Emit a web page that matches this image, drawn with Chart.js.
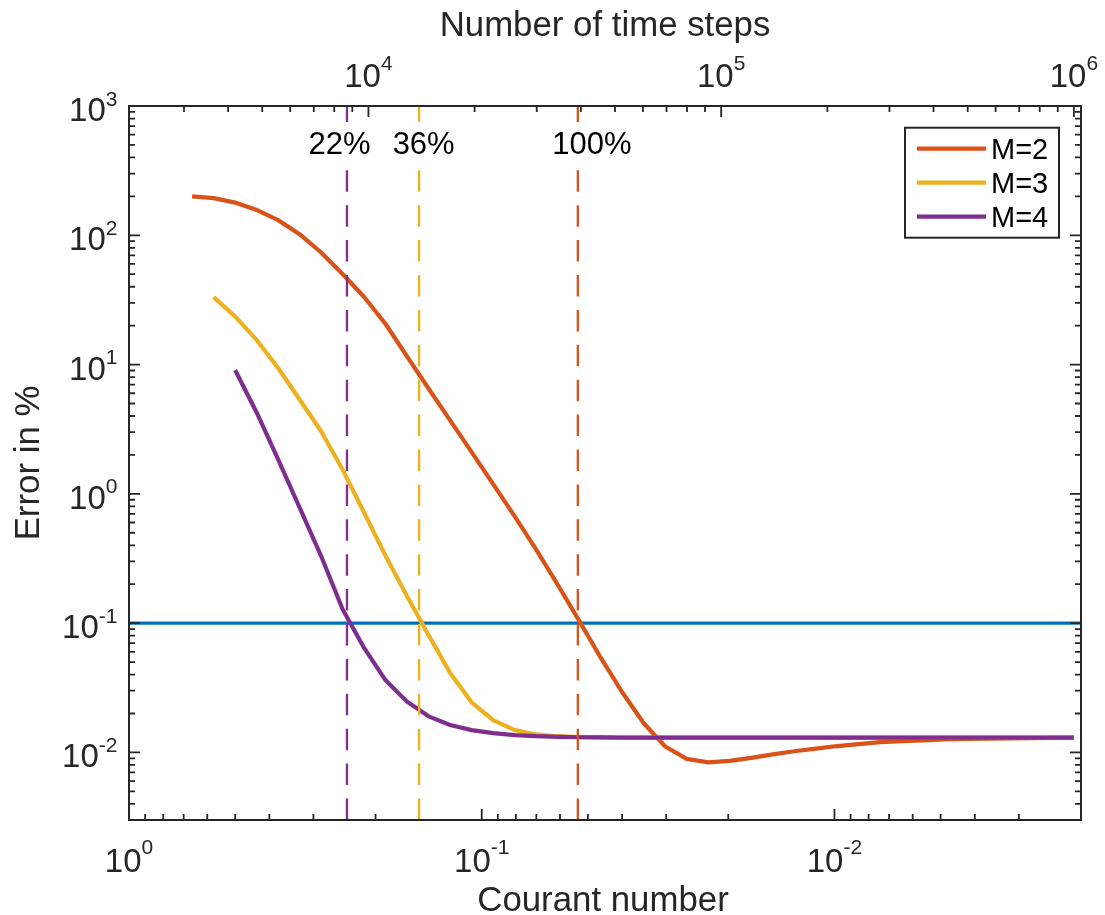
<!DOCTYPE html>
<html>
<head>
<meta charset="utf-8">
<title>Error versus Courant number</title>
<script src="https://cdn.jsdelivr.net/npm/chart.js@4.4.1/dist/chart.umd.min.js"></script>
<style>
  html, body { margin: 0; padding: 0; background: #ffffff; }
  #wrap { width: 1105px; height: 915px; }
  canvas { display: block; }
</style>
</head>
<body>
<div id="wrap"><canvas id="chart" width="1105" height="915"></canvas></div>
<script>
// ---- data -----------------------------------------------------------------
// Courant number of every run (one run per number of time steps)
const courantNumber = [0.6625, 0.5757, 0.5003, 0.4347, 0.3778, 0.3283, 0.2853, 0.2480,
  0.2155, 0.1873, 0.1627, 0.1414, 0.1229, 0.1068, 0.09279, 0.08063, 0.07007, 0.06089,
  0.05291, 0.04598, 0.03996, 0.03473, 0.03018, 0.02623, 0.02279, 0.01980, 0.01721,
  0.01496, 0.01300, 0.01129, 0.009815, 0.008530, 0.007413, 0.006442, 0.005598, 0.004865,
  0.004227, 0.003673, 0.003192, 0.002774, 0.002411, 0.002095];

// error in % for each model order (null where the run is not shown)
const errorM2 = [200, 194, 179, 157, 131, 102, 73.6, 50.2, 33.3, 20.6, 11.5, 6.5, 3.7,
  2.1, 1.19, 0.67, 0.37, 0.198, 0.104, 0.054, 0.0292, 0.0168, 0.0111, 0.00891, 0.00837,
  0.0086, 0.00907, 0.00965, 0.0102, 0.0107, 0.0112, 0.0116, 0.0120, 0.0122, 0.0124,
  0.0126, 0.0127, 0.0128, 0.01286, 0.0129, 0.01296, 0.0130];
const errorM3 = [null, 33.2, 23.6, 15.5, 9.4, 5.37, 3.05, 1.54, 0.717, 0.331, 0.161,
  0.0806, 0.0412, 0.0244, 0.01775, 0.01487, 0.01377, 0.01334, 0.01313, 0.01305, 0.0130,
  0.0130, 0.0130, 0.0130, 0.0130, 0.0130, 0.0130, 0.0130, 0.0130, 0.0130, 0.0130, 0.0130,
  0.0130, 0.0130, 0.0130, 0.0130, 0.0130, 0.0130, 0.0130, 0.0130, 0.0130, 0.0130];
const errorM4 = [null, null, 9.08, 4.26, 1.85, 0.783, 0.33, 0.128, 0.0643, 0.0361, 0.0246,
  0.0190, 0.0163, 0.01487, 0.0141, 0.0136, 0.01334, 0.0132, 0.0131, 0.01305, 0.0130,
  0.0130, 0.0130, 0.0130, 0.0130, 0.0130, 0.0130, 0.0130, 0.0130, 0.0130, 0.0130, 0.0130,
  0.0130, 0.0130, 0.0130, 0.0130, 0.0130, 0.0130, 0.0130, 0.0130, 0.0130, 0.0130];
const seriesLabels = ['M=2', 'M=3', 'M=4'];

// error tolerance, and per order (M=2, M=3, M=4) the Courant number where it is reached
const toleranceError = 0.1;
const crossingCourant = [0.0534, 0.1505, 0.2410];
const crossingLabels = ['100%', '36%', '22%'];
const crossingLabelCourant = [0.04873, 0.1461, 0.2530];

// axes: Courant number (bottom), error (left), time steps = stepsTimesCourant / Courant (top)
const courantRange = [0.002, 1];
const errorRange = [0.003, 1000];
const stepsTimesCourant = 2095;
const courantTicks = [1, 0.1, 0.01];
const errorTicks = [1000, 100, 10, 1, 0.1, 0.01];
const stepTicks = [1e4, 1e5, 1e6];

// ---- styling --------------------------------------------------------------
const FONT = '"Liberation Sans", Arial, Helvetica, sans-serif';
const AXIS_COLOR = '#262626';
const COLORS = { blue: '#0072BD', orange: '#D95319', yellow: '#EDB120', purple: '#7E2F8E' };
const seriesColors = [COLORS.orange, COLORS.yellow, COLORS.purple];
const TICK_PX = 33, SUP_PX = 21, LABEL_PX = 34.8, LEGEND_PX = 29, NOTE_PX = 31;

function pairs(xs, ys) {
  return xs.map((x, i) => ({ x, y: ys[i] })).filter(p => p.y !== null);
}

// 1..9 x 10^n tick values inside a range
function logTickValues(min, max) {
  const out = [];
  for (let e = Math.floor(Math.log10(min)) - 1; e <= Math.ceil(Math.log10(max)); e++) {
    for (let m = 1; m < 10; m++) {
      const v = parseFloat((m * Math.pow(10, e)).toPrecision(6));
      if (v >= min * 0.9999 && v <= max * 1.0001) out.push({ value: v, major: m === 1 });
    }
  }
  return out;
}
const setLogTicks = scale => { scale.ticks = logTickValues(scale.min, scale.max); };

const seriesErrors = [errorM2, errorM3, errorM4];
const datasets = [];

// dashed markers where each order reaches the tolerance (drawn on top)
crossingCourant.forEach((c, i) => {
  datasets.push({
    data: [{ x: c, y: errorRange[0] }, { x: c, y: errorRange[1] }],
    borderColor: seriesColors[i], borderWidth: 2.3, borderDash: [21.5, 13.4],
    pointRadius: 0, order: 0, inLegend: false
  });
});
// error curves
seriesErrors.forEach((err, i) => {
  datasets.push({
    label: seriesLabels[i], data: pairs(courantNumber, err),
    borderColor: seriesColors[i], backgroundColor: seriesColors[i],
    borderWidth: 4.2, pointRadius: 0, tension: 0, borderJoinStyle: 'round',
    order: 3 - i, inLegend: true
  });
});
// tolerance line
datasets.push({
  data: [{ x: courantRange[1], y: toleranceError }, { x: courantRange[0], y: toleranceError }],
  borderColor: COLORS.blue, borderWidth: 3.4, pointRadius: 0, order: 4, inLegend: false
});

// "10" with a raised exponent
function drawPow10(ctx, x, baseline, exp, align, raise) {
  const base = '10', sup = String(exp);
  ctx.font = `${TICK_PX}px ${FONT}`;
  const wb = ctx.measureText(base).width;
  ctx.font = `${SUP_PX}px ${FONT}`;
  const ws = ctx.measureText(sup).width;
  const x0 = align === 'center' ? x - (wb + ws) / 2 : x - (wb + ws);
  ctx.textAlign = 'left';
  ctx.textBaseline = 'alphabetic';
  ctx.font = `${TICK_PX}px ${FONT}`;
  ctx.fillText(base, x0, baseline);
  ctx.font = `${SUP_PX}px ${FONT}`;
  ctx.fillText(sup, x0 + wb, baseline - raise);
}

function drawTickMarks(ctx, scale, side, a) {
  ctx.beginPath();
  for (const t of scale.ticks) {
    const len = t.major ? 11 : 6;
    const p = scale.getPixelForValue(t.value);
    if (side === 'bottom') { ctx.moveTo(p, a.bottom); ctx.lineTo(p, a.bottom - len); }
    if (side === 'top') { ctx.moveTo(p, a.top); ctx.lineTo(p, a.top + len); }
    if (side === 'left') { ctx.moveTo(a.left, p); ctx.lineTo(a.left + len, p); }
    if (side === 'right') { ctx.moveTo(a.right, p); ctx.lineTo(a.right - len, p); }
  }
  ctx.stroke();
}

const decorPlugin = {
  id: 'decor',
  afterDatasetsDraw(chart) {
    const { ctx, chartArea: a, scales } = chart;
    ctx.save();
    ctx.font = `${NOTE_PX}px ${FONT}`;
    ctx.textAlign = 'center';
    ctx.textBaseline = 'alphabetic';
    crossingLabels.forEach((txt, i) => {
      const cx = scales.x.getPixelForValue(crossingLabelCourant[i]);
      const w = ctx.measureText(txt).width;
      ctx.fillStyle = '#ffffff';
      ctx.fillRect(cx - w / 2 - 4, a.top + 17, w + 8, 45);
      ctx.fillStyle = '#000000';
      ctx.fillText(txt, cx, a.top + 47.5);
    });
    ctx.restore();
  },
  afterDraw(chart) {
    const { ctx, chartArea: a, scales } = chart;
    ctx.save();
    // axes box and inward ticks
    ctx.strokeStyle = AXIS_COLOR;
    ctx.lineWidth = 2;
    ctx.strokeRect(a.left, a.top, a.right - a.left, a.bottom - a.top);
    ctx.lineWidth = 1.8;
    drawTickMarks(ctx, scales.x, 'bottom', a);
    drawTickMarks(ctx, scales.xTop, 'top', a);
    drawTickMarks(ctx, scales.y, 'left', a);
    drawTickMarks(ctx, scales.yRight, 'right', a);

    // tick labels
    ctx.fillStyle = AXIS_COLOR;
    courantTicks.forEach(v => {
      drawPow10(ctx, scales.x.getPixelForValue(v), a.bottom + 51.5, Math.round(Math.log10(v)), 'center', 17.5);
    });
    stepTicks.forEach(v => {
      drawPow10(ctx, scales.xTop.getPixelForValue(v), a.top - 18.7, Math.round(Math.log10(v)), 'center', 17.3);
    });
    errorTicks.forEach(v => {
      drawPow10(ctx, a.left - 11.5, scales.y.getPixelForValue(v) + 15, Math.round(Math.log10(v)), 'right', 15.5);
    });

    // axis titles
    const cx = (a.left + a.right) / 2;
    ctx.font = `${LABEL_PX}px ${FONT}`;
    ctx.textAlign = 'center';
    ctx.textBaseline = 'alphabetic';
    ctx.fillText('Number of time steps', cx, 36);
    ctx.fillText('Courant number', cx - 2, 911);
    ctx.save();
    ctx.translate(39, (a.top + a.bottom) / 2);
    ctx.rotate(-Math.PI / 2);
    ctx.fillText('Error in %', 0, 0);
    ctx.restore();

    // legend
    const items = chart.data.datasets.filter(d => d.inLegend);
    const bx = a.right - 176, by = a.top + 21.7, bw = 154, bh = 110;
    ctx.fillStyle = '#ffffff';
    ctx.fillRect(bx, by, bw, bh);
    ctx.strokeStyle = AXIS_COLOR;
    ctx.lineWidth = 2;
    ctx.strokeRect(bx, by, bw, bh);
    ctx.font = `${LEGEND_PX}px ${FONT}`;
    ctx.textAlign = 'left';
    items.forEach((d, i) => {
      const ry = by + 21 + i * 34;
      ctx.strokeStyle = d.borderColor;
      ctx.lineWidth = 4.2;
      ctx.beginPath();
      ctx.moveTo(bx + 12, ry);
      ctx.lineTo(bx + 81, ry);
      ctx.stroke();
      ctx.fillStyle = '#000000';
      ctx.fillText(d.label, bx + 86, ry + 10);
    });
    ctx.restore();
  }
};

const hiddenTicks = { display: false };
new Chart(document.getElementById('chart'), {
  type: 'line',
  data: { datasets },
  options: {
    responsive: false,
    devicePixelRatio: 1,
    animation: false,
    events: [],
    layout: { padding: 0 },
    plugins: { legend: { display: false }, tooltip: { enabled: false } },
    scales: {
      x: {
        type: 'logarithmic', position: 'bottom', reverse: true,
        min: courantRange[0], max: courantRange[1],
        grid: { display: false }, border: { display: false }, ticks: hiddenTicks,
        afterBuildTicks: setLogTicks,
        afterFit: s => { s.height = 95; }
      },
      xTop: {
        type: 'logarithmic', position: 'top', display: true,
        min: stepsTimesCourant / courantRange[1], max: stepsTimesCourant / courantRange[0],
        grid: { display: false }, border: { display: false }, ticks: hiddenTicks,
        afterBuildTicks: setLogTicks,
        afterFit: s => { s.height = 106; }
      },
      y: {
        type: 'logarithmic', position: 'left',
        min: errorRange[0], max: errorRange[1],
        grid: { display: false }, border: { display: false }, ticks: hiddenTicks,
        afterBuildTicks: setLogTicks,
        afterFit: s => { s.width = 129; }
      },
      yRight: {
        type: 'logarithmic', position: 'right', display: true,
        min: errorRange[0], max: errorRange[1],
        grid: { display: false }, border: { display: false }, ticks: hiddenTicks,
        afterBuildTicks: setLogTicks,
        afterFit: s => { s.width = 24; }
      }
    }
  },
  plugins: [decorPlugin]
});
</script>
</body>
</html>
